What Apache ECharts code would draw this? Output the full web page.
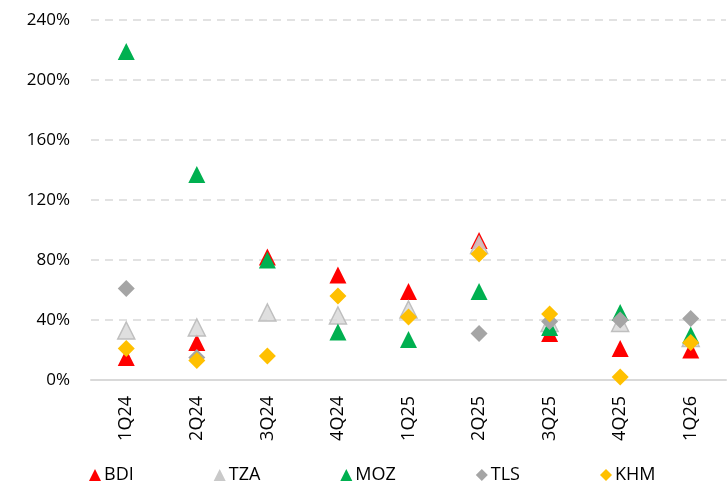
<!DOCTYPE html>
<html>
<head>
<meta charset="utf-8">
<script src="https://cdn.jsdelivr.net/npm/echarts@6/dist/echarts.min.js"></script>
<style>
  html, body { margin: 0; padding: 0; background: #fff; }
  #chart { width: 728px; height: 489px; }
</style>
</head>
<body>
<div id="chart"></div>
<script>
const quarters = ["1Q24", "2Q24", "3Q24", "4Q24", "1Q25", "2Q25", "3Q25", "4Q25", "1Q26"];
const bdi = [15, 25, 82, 70, 59, 93, 31, 21, 20];
const tza = [33, 35, 45, 43, 47, 90, 38, 38, 28];
const moz = [219, 137, 80, 32, 27, 59, 35, 45, 30];
const tls = [61, 15, null, null, null, 31, 39, 40, 41];
const khm = [21, 13, 16, 56, 42, 84, 44, 2, 25];

const chart = echarts.init(document.getElementById("chart"));

const font = "'Open Sans', 'Noto Sans', sans-serif";

function scatter(name, data, symbol, color, border) {
  return {
    name: name,
    type: "scatter",
    data: data,
    symbol: symbol,
    symbolSize: 17,
    itemStyle: {
      color: color,
      opacity: 1,
      borderColor: border || color,
      borderWidth: border ? 1.5 : 0,
    },
  };
}

const option = {
  animation: false,
  grid: {
    left: 91,
    right: 2,
    top: 20,
    bottom: 109,
  },
  legend: {
    bottom: 0,
    left: 84,
    itemGap: 80,
    itemWidth: 12,
    itemHeight: 12,
    textStyle: {
      fontFamily: font,
      fontSize: 18,
      color: "#000",
      padding: [0, 0, 0, -2],
    },
    data: [
      { name: "BDI", icon: "triangle" },
      { name: "TZA", icon: "triangle", itemStyle: { color: "#c9c9c9", borderWidth: 0 } },
      { name: "MOZ", icon: "triangle" },
      { name: "TLS", icon: "diamond" },
      { name: "KHM", icon: "diamond" },
    ],
  },
  xAxis: {
    type: "category",
    data: quarters,
    axisLine: {
      lineStyle: { color: "#d9d9d9", width: 2 },
    },
    axisTick: { show: false },
    axisLabel: {
      rotate: 90,
      margin: 16,
      interval: 0,
      fontFamily: font,
      fontSize: 18,
      color: "#000",
    },
  },
  yAxis: {
    type: "value",
    min: 0,
    max: 240,
    interval: 40,
    axisLine: { show: false },
    axisTick: { show: false },
    axisLabel: {
      formatter: "{value}%",
      margin: 21,
      fontFamily: font,
      fontSize: 17,
      color: "#000",
    },
    splitLine: {
      lineStyle: { color: "#d9d9d9", type: [8, 6], width: 1.5 },
    },
  },
  series: [
    scatter("BDI", bdi, "triangle", "#ff0000"),
    scatter("TZA", tza, "triangle", "rgba(217,217,217,0.85)", "#bfbfbf"),
    scatter("MOZ", moz, "triangle", "#00b050"),
    scatter("TLS", tls, "diamond", "#a5a5a5"),
    scatter("KHM", khm, "diamond", "#ffc000"),
  ],
};

chart.setOption(option);
</script>
</body>
</html>
